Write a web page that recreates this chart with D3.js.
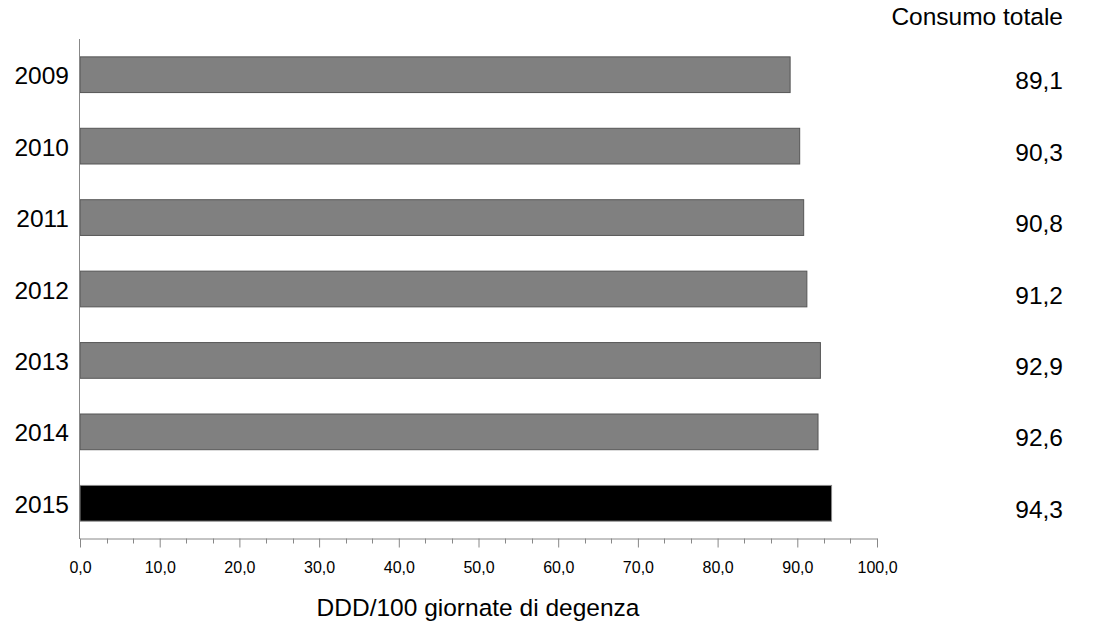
<!DOCTYPE html>
<html><head><meta charset="utf-8">
<script src="https://cdn.jsdelivr.net/npm/d3@7"></script>
<style>body{margin:0;background:#fff;} text{font-family:"Liberation Sans",Arial,sans-serif;fill:#000;}</style>
</head><body><svg id="c" width="1099" height="631"></svg>
<script>
const years = ["2009","2010","2011","2012","2013","2014","2015"];
const values = [89.1, 90.3, 90.8, 91.2, 92.9, 92.6, 94.3];
const valueLabels = ["89,1","90,3","90,8","91,2","92,9","92,6","94,3"];
const majorTicks = [0,10,20,30,40,50,60,70,80,90,100];
const minorTicks = [3.33,6.67,13.33,16.67,23.33,26.67,33.33,36.67,43.33,46.67,53.33,56.67,63.33,66.67,73.33,76.67,83.33,86.67,93.33,96.67];
const svg = d3.select("#c");
const x = d3.scaleLinear().domain([0,100]).range([80,877]);
const y = d3.scaleBand().domain(years).range([39,539]).paddingInner(0.5).paddingOuter(0.25);
const fmt = d => d3.format(".1f")(d).replace(".", ",");

svg.selectAll("rect.bar").data(years).join("rect")
  .attr("x", x(0)).attr("y", d => y(d))
  .attr("width", (d,i) => x(values[i]) - x(0)).attr("height", y.bandwidth())
  .attr("fill", (d,i) => i === years.length-1 ? "#000" : "#808080")
  .attr("stroke", (d,i) => i === years.length-1 ? "#888" : "#555").attr("stroke-width", 1);

svg.append("line").attr("x1",79.5).attr("x2",79.5).attr("y1",39).attr("y2",539).attr("stroke","#888");
const xa = svg.append("g").attr("transform","translate(0,538.5)")
  .call(d3.axisBottom(x).tickValues(majorTicks).tickFormat(fmt).tickSize(9).tickSizeOuter(0));
xa.select(".domain").attr("stroke","#888");
xa.selectAll(".tick line").attr("stroke","#888");
xa.selectAll("text").attr("font-size","16px").attr("font-family","Liberation Sans, Arial").attr("y",0).attr("dy","34px").attr("fill","#000");
svg.append("g").selectAll("line").data(minorTicks).join("line")
  .attr("x1", d => Math.round(x(d))+0.5).attr("x2", d => Math.round(x(d))+0.5).attr("y1",538.5).attr("y2",543.5).attr("stroke","#888");

svg.selectAll("text.yr").data(years).join("text").attr("class","yr")
  .attr("x",69).attr("y", d => y(d)+y.bandwidth()/2+1).attr("dy","0.35em")
  .attr("text-anchor","end").attr("font-size","24.5px").text(d => d);
svg.selectAll("text.vl").data(years).join("text").attr("class","vl")
  .attr("x",1063).attr("y", d => y(d)+y.bandwidth()/2+6).attr("dy","0.35em")
  .attr("text-anchor","end").attr("font-size","24.5px").text((d,i) => valueLabels[i]);
svg.append("text").attr("x",1063).attr("y",25).attr("text-anchor","end").attr("font-size","24.5px").text("Consumo totale");
svg.append("text").attr("x",478).attr("y",616).attr("text-anchor","middle").attr("font-size","24.5px").text("DDD/100 giornate di degenza");
</script></body></html>
